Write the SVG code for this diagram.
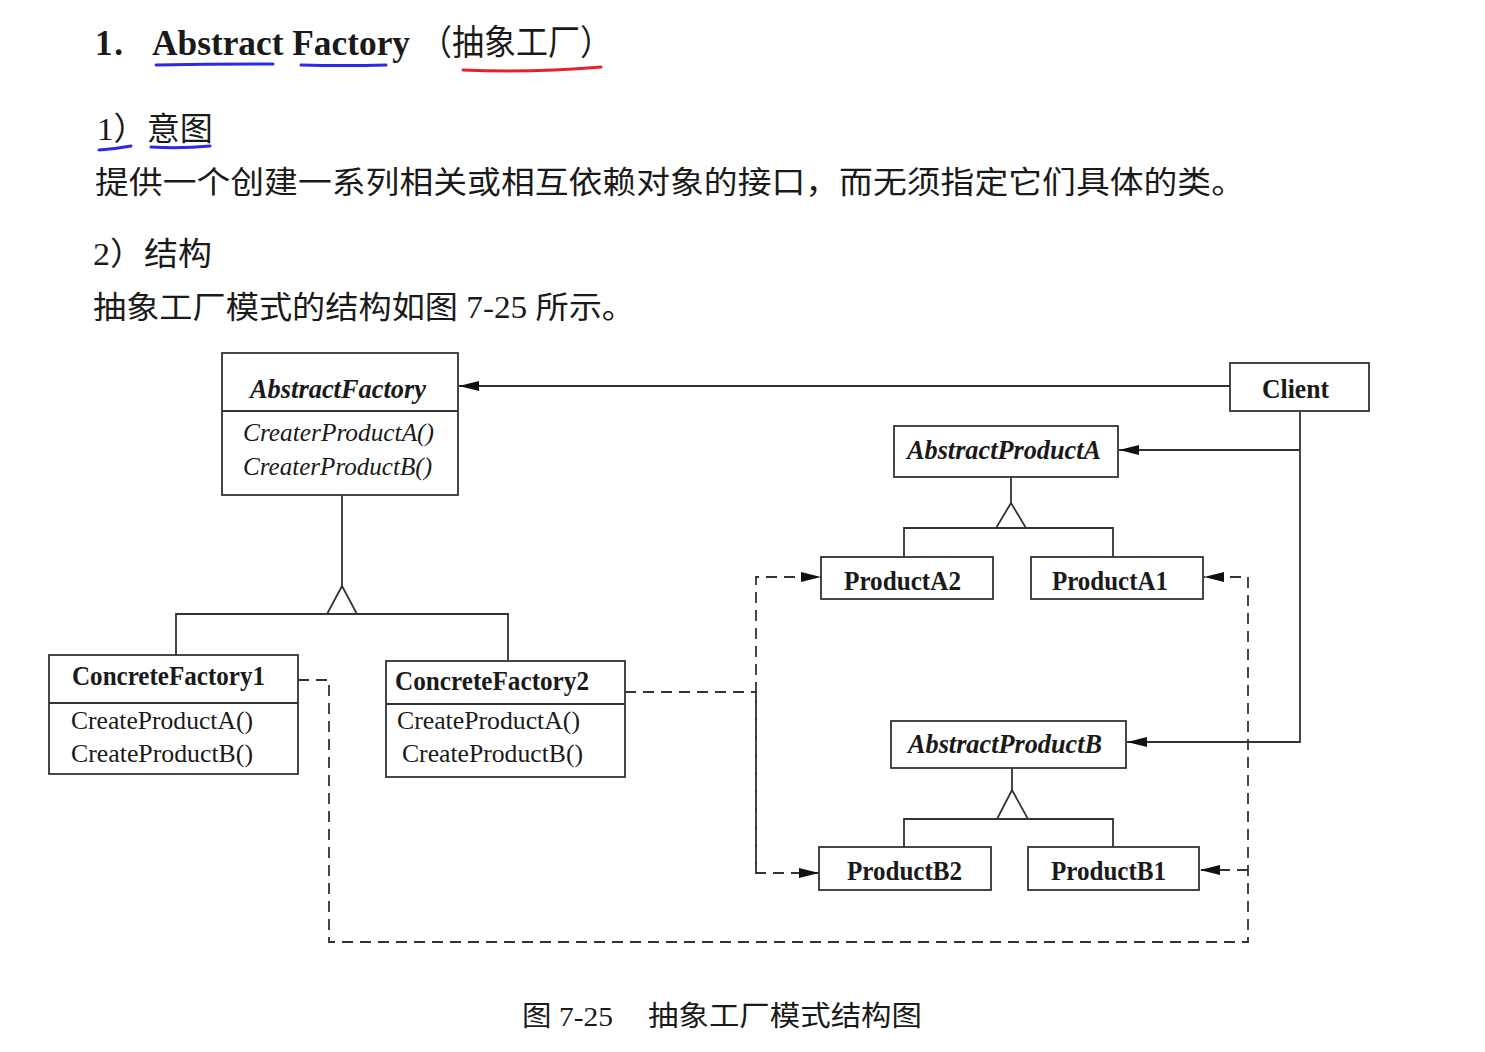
<svg xmlns="http://www.w3.org/2000/svg" width="1485" height="1052" viewBox="0 0 1485 1052">
<defs>
<style>
.t{font-family:"Liberation Serif","Noto Sans CJK SC",serif;fill:#1a1a1a}
.h{font-size:32px}
.p{font-size:31px}
.n{font-size:27px;font-weight:bold}
.ni{font-size:27px;font-weight:bold;font-style:italic}
.mi{font-size:26px;font-style:italic}
.m{font-size:26px}
.box{fill:#fff;stroke:#333;stroke-width:1.8}
.ln{fill:none;stroke:#333;stroke-width:1.8}
.ds{fill:none;stroke:#333;stroke-width:1.8;stroke-dasharray:11 7}
.tri{fill:#fff;stroke:#333;stroke-width:1.8}
.ub{fill:none;stroke:#2b2be6;stroke-width:3;stroke-linecap:round}
.ur{fill:none;stroke:#e8202a;stroke-width:3;stroke-linecap:round}
</style>
<marker id="arr" viewBox="0 0 20 10" refX="20" refY="5" markerWidth="20" markerHeight="10" markerUnits="userSpaceOnUse" orient="auto">
<path d="M0,0 L20,5 L0,10 Z" fill="#111"/>
</marker>
</defs>
<rect width="1485" height="1052" fill="#fff"/>

<g id="header">
<text class="t" font-size="35" x="95" y="55" font-weight="bold" textLength="28">1.</text>
<text class="t" font-size="35" x="152" y="55" font-weight="bold" textLength="258" lengthAdjust="spacingAndGlyphs">Abstract Factory</text>
<text class="t" font-size="35" x="420" y="55" textLength="192" lengthAdjust="spacingAndGlyphs">（抽象工厂）</text>
<path class="ub" d="M156,65 Q215,64 273,64"/>
<path class="ub" d="M301,65 Q345,66 386,65"/>
<path class="ur" d="M463,70 Q530,73 601,67"/>
<text class="t h" x="97" y="140" textLength="116" lengthAdjust="spacingAndGlyphs">1）意图</text>
<path class="ub" d="M99,150 Q115,149 131,146"/>
<path class="ub" d="M151,147 Q180,149 210,146"/>
<text class="t p" x="95" y="193" textLength="1150" lengthAdjust="spacingAndGlyphs">提供一个创建一系列相关或相互依赖对象的接口，而无须指定它们具体的类。</text>
<text class="t h" x="93" y="265" textLength="119" lengthAdjust="spacingAndGlyphs">2）结构</text>
<text class="t p" x="93" y="318" textLength="542" lengthAdjust="spacingAndGlyphs">抽象工厂模式的结构如图 7-25 所示。</text>
</g>

<g id="connectors">
<line class="ln" x1="1230" y1="386" x2="459" y2="386" marker-end="url(#arr)"/>
<polyline class="ln" points="1300,411 1300,742 1127,742" marker-end="url(#arr)"/>
<line class="ln" x1="1300" y1="450" x2="1119" y2="450" marker-end="url(#arr)"/>
<line class="ln" x1="342" y1="495" x2="342" y2="586"/>
<polyline class="ln" points="176,655 176,614 508,614 508,661"/>
<polygon class="tri" points="342,586 327,614 357,614"/>
<line class="ln" x1="1011" y1="477" x2="1011" y2="503"/>
<polyline class="ln" points="904,557 904,528 1113,528 1113,557"/>
<polygon class="tri" points="1011,503 996,528 1026,528"/>
<line class="ln" x1="1012" y1="768" x2="1012" y2="790"/>
<polyline class="ln" points="904,847 904,819 1113,819 1113,847"/>
<polygon class="tri" points="1012,790 997,819 1028,819"/>
<polyline class="ds" points="625,692 756,692"/>
<polyline class="ds" points="756,873 756,577 821,577" marker-end="url(#arr)"/>
<polyline class="ds" points="756,692 756,873 819,873" marker-end="url(#arr)"/>
<polyline class="ds" points="298,680 329,680 329,942 1248,942 1248,577 1204,577" marker-end="url(#arr)"/>
<line class="ds" x1="1248" y1="870" x2="1200" y2="870" marker-end="url(#arr)"/>
</g>

<g id="AbstractFactory">
<rect class="box" x="222" y="353" width="236" height="142"/>
<line class="ln" x1="222" y1="411" x2="458" y2="411"/>
<text class="t ni" x="250" y="398" textLength="176" lengthAdjust="spacingAndGlyphs">AbstractFactory</text>
<text class="t mi" x="243" y="441" textLength="191" lengthAdjust="spacingAndGlyphs">CreaterProductA()</text>
<text class="t mi" x="243" y="475" textLength="189" lengthAdjust="spacingAndGlyphs">CreaterProductB()</text>
</g>

<g id="Client">
<rect class="box" x="1230" y="363" width="139" height="48"/>
<text class="t n" x="1262" y="398" textLength="67" lengthAdjust="spacingAndGlyphs">Client</text>
</g>

<g id="AbstractProductA">
<rect class="box" x="894" y="426" width="224" height="51"/>
<text class="t ni" x="907" y="459" textLength="194" lengthAdjust="spacingAndGlyphs">AbstractProductA</text>
</g>

<g id="ProductA2">
<rect class="box" x="821" y="557" width="172" height="42"/>
<text class="t n" x="844" y="590" textLength="117" lengthAdjust="spacingAndGlyphs">ProductA2</text>
</g>

<g id="ProductA1">
<rect class="box" x="1031" y="557" width="172" height="42"/>
<text class="t n" x="1052" y="590" textLength="116" lengthAdjust="spacingAndGlyphs">ProductA1</text>
</g>

<g id="ConcreteFactory1">
<rect class="box" x="49" y="655" width="249" height="119"/>
<line class="ln" x1="49" y1="703" x2="298" y2="703"/>
<text class="t n" x="72" y="685" textLength="193" lengthAdjust="spacingAndGlyphs">ConcreteFactory1</text>
<text class="t m" x="71" y="729" textLength="182" lengthAdjust="spacingAndGlyphs">CreateProductA()</text>
<text class="t m" x="71" y="762" textLength="182" lengthAdjust="spacingAndGlyphs">CreateProductB()</text>
</g>

<g id="ConcreteFactory2">
<rect class="box" x="386" y="661" width="239" height="116"/>
<line class="ln" x1="386" y1="704" x2="625" y2="704"/>
<text class="t n" x="395" y="690" textLength="194" lengthAdjust="spacingAndGlyphs">ConcreteFactory2</text>
<text class="t m" x="397" y="729" textLength="183" lengthAdjust="spacingAndGlyphs">CreateProductA()</text>
<text class="t m" x="402" y="762" textLength="181" lengthAdjust="spacingAndGlyphs">CreateProductB()</text>
</g>

<g id="AbstractProductB">
<rect class="box" x="891" y="721" width="235" height="47"/>
<text class="t ni" x="908" y="753" textLength="194" lengthAdjust="spacingAndGlyphs">AbstractProductB</text>
</g>

<g id="ProductB2">
<rect class="box" x="819" y="847" width="172" height="43"/>
<text class="t n" x="847" y="880" textLength="115" lengthAdjust="spacingAndGlyphs">ProductB2</text>
</g>

<g id="ProductB1">
<rect class="box" x="1028" y="847" width="171" height="43"/>
<text class="t n" x="1051" y="880" textLength="115" lengthAdjust="spacingAndGlyphs">ProductB1</text>
</g>

<g id="caption">
<text class="t" font-size="28" x="522" y="1026" textLength="91" lengthAdjust="spacingAndGlyphs">图 7-25</text>
<text class="t" font-size="28" x="648" y="1026" textLength="274" lengthAdjust="spacingAndGlyphs">抽象工厂模式结构图</text>
</g>
</svg>
